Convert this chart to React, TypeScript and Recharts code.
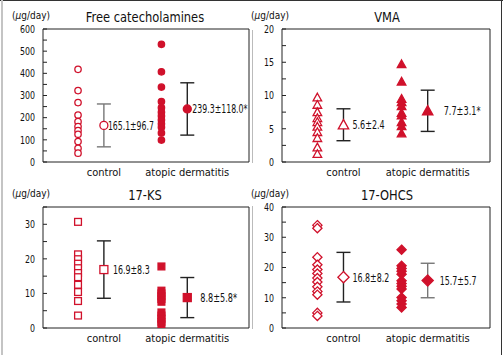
import React from 'react';
import { ScatterChart, Scatter, XAxis, YAxis, ErrorBar, ReferenceLine } from 'recharts';

const GROUPS = ['control', 'atopic dermatitis'];

// Free catecholamines (µg/day)
const CATE_CONTROL = [418, 322, 268, 212, 182, 160, 142, 125, 92, 62, 40];
const CATE_ATOPIC = [531, 407, 338, 273, 245, 225, 208, 190, 172, 157, 131, 99];
const CATE_MEAN = [165.1, 239.3];
const CATE_SD = [96.7, 118.0];
const CATE_SIG = [false, true];

// VMA
const VMA_CONTROL = [9.7, 8.6, 7.5, 6.6, 6.0, 5.3, 4.5, 3.6, 2.2, 1.2];
const VMA_ATOPIC = [14.7, 12.1, 9.5, 9.0, 8.4, 7.4, 7.0, 6.0, 5.4, 4.3];
const VMA_MEAN = [5.6, 7.7];
const VMA_SD = [2.4, 3.1];
const VMA_SIG = [false, true];

// 17-KS
const KS_CONTROL = [30.7, 21.3, 19.9, 18.6, 17.3, 15.9, 14.7, 12.5, 10.4, 7.8, 3.6];
const KS_ATOPIC = [17.8, 10.8, 10.0, 9.2, 8.4, 7.6, 4.5, 3.6, 2.7, 1.8, 1.1];
const KS_MEAN = [16.9, 8.8];
const KS_SD = [8.3, 5.8];
const KS_SIG = [false, true];

// 17-OHCS
const OHCS_CONTROL = [34.0, 33.0, 23.4, 20.9, 19.3, 18.0, 16.5, 15.2, 13.6, 12.1, 11.0, 5.0, 4.0];
const OHCS_ATOPIC = [25.9, 20.6, 19.7, 18.8, 17.8, 15.6, 14.7, 13.8, 12.9, 10.1, 9.0, 7.9, 6.8];
const OHCS_MEAN = [16.8, 15.7];
const OHCS_SD = [8.2, 5.7];
const OHCS_SIG = [false, false];

const RED = '#d0112b';
const FONT = '"DejaVu Sans Condensed", "DejaVu Sans", sans-serif';
const X_DOMAIN = [0.27, 2.74];
const SHIFT = 0.31; // individual values sit left of the group mean

type Kind = 'circle' | 'triangle' | 'square' | 'diamond';

function Marker({ cx, cy, kind, filled, s }: { cx: number; cy: number; kind: Kind; filled: boolean; s: number }) {
  const st = { fill: filled ? RED : '#fff', stroke: RED, strokeWidth: 1.3 };
  if (kind === 'circle') return <circle cx={cx} cy={cy} r={s} {...st} />;
  if (kind === 'square') return <rect x={cx - s} y={cy - s} width={s * 2} height={s * 2} {...st} />;
  if (kind === 'triangle')
    return <polygon points={`${cx},${cy - s} ${cx + s},${cy + s * 0.8} ${cx - s},${cy + s * 0.8}`} {...st} />;
  return <polygon points={`${cx},${cy - s} ${cx + s},${cy} ${cx},${cy + s} ${cx - s},${cy}`} {...st} />;
}

const SIZES: Record<Kind, [number, number]> = {
  circle: [3.2, 4],
  triangle: [4.3, 5.2],
  square: [3.4, 4],
  diamond: [4.6, 5.6],
};

function Panel(props: any) {
  const { left, top, width, height, mLeft, mRight, title, titleX, yMax, step, labelStep, kind, control, atopic, mean, sd, sig, labelDx, barColors } = props;
  const ticks: number[] = [];
  for (let v = 0; v <= yMax; v += step) ticks.push(v);
  const ctrl = control.map((y: number) => ({ x: 1 - SHIFT, y }));
  const atop = atopic.map((y: number) => ({ x: 2 - SHIFT, y }));
  const means = mean.map((m: number, i: number) => ({
    x: i + 1,
    y: m,
    sd: sd[i],
    i,
    label: `${m.toFixed(1)}±${sd[i].toFixed(1)}${sig[i] ? '*' : ''}`,
  }));
  const [s1, s2] = SIZES[kind as Kind];
  const yTick = (p: any) => {
    const v = p.payload.value;
    const t = String(v);
    return (
      <g>
        <line x1={p.x} x2={p.x + 4} y1={p.y} y2={p.y} stroke="#222" />
        {v % labelStep === 0 && (
          <text x={p.x - 8} y={p.y} dy="0.36em" textAnchor="end" fontSize={10.5} fill="#111" fontFamily={FONT}
            textLength={t.length * 5} lengthAdjust="spacingAndGlyphs">
            {t}
          </text>
        )}
      </g>
    );
  };
  return (
    <div style={{ position: 'absolute', left, top, width, height }}>
      <div style={{ position: 'absolute', left: titleX - left, top: 10, transform: 'translateX(-50%) scaleX(0.88)', fontSize: 14.5, lineHeight: '15px', fontFamily: FONT, whiteSpace: 'nowrap', color: '#111' }}>
        {title}
      </div>
      <div style={{ position: 'absolute', left: mLeft - 31, top: 10, fontSize: 10, lineHeight: '12px', fontFamily: FONT, color: '#111', whiteSpace: 'nowrap' }}>
        (<i>µ</i>g/day)
      </div>
      <ScatterChart width={width} height={height} margin={{ top: 29, right: mRight, bottom: 0, left: mLeft - 30 }}>
        <XAxis
          type="number"
          dataKey="x"
          domain={X_DOMAIN}
          ticks={[1, 2]}
          interval={0}
          tickFormatter={(v: number) => GROUPS[v - 1]}
          tickLine={false}
          tickSize={0}
          tickMargin={6}
          height={18}
          axisLine={{ stroke: '#222' }}
          tick={{ fontSize: 11, fill: '#111', fontFamily: FONT }}
          allowDataOverflow
        />
        <YAxis
          type="number"
          dataKey="y"
          domain={[0, yMax]}
          ticks={ticks}
          interval={0}
          tick={yTick}
          tickLine={false}
          tickSize={0}
          tickMargin={0}
          width={30}
          axisLine={{ stroke: '#222' }}
          allowDataOverflow
        />
        <ReferenceLine y={yMax} stroke="#222" />
        <ReferenceLine x={X_DOMAIN[1]} stroke="#222" />
        {means.map((d: any) => (
          <Scatter key={'eb' + d.i} data={[d]} isAnimationActive={false} shape={() => <g />}>
            <ErrorBar dataKey="sd" direction="y" width={7} stroke={barColors[d.i]} strokeWidth={1.4} />
          </Scatter>
        ))}
        <Scatter
          data={ctrl}
          isAnimationActive={false}
          shape={(p: any) => <Marker cx={p.cx} cy={p.cy} kind={kind} filled={false} s={s1} />}
        />
        <Scatter
          data={atop}
          isAnimationActive={false}
          shape={(p: any) => <Marker cx={p.cx} cy={p.cy} kind={kind} filled={true} s={s1} />}
        />
        <Scatter
          data={means}
          isAnimationActive={false}
          shape={(p: any) => (
            <g>
              <Marker cx={p.cx} cy={p.cy} kind={kind} filled={p.payload.i === 1} s={s2} />
              <text x={p.cx + labelDx[p.payload.i]} y={p.cy} dy="0.36em" fontSize={12} fill="#111" fontFamily={FONT}
                textLength={p.payload.label.length * 4.6} lengthAdjust="spacingAndGlyphs">
                {p.payload.label}
              </text>
            </g>
          )}
        />
      </ScatterChart>
    </div>
  );
}

export default function App() {
  return (
    <div style={{ position: 'fixed', left: 0, top: 0, width: 503, height: 355, background: '#fff', overflow: 'hidden' }}>
      <div style={{ position: 'absolute', left: 0, top: 0, width: 503, height: 1, background: '#333' }} />
      <div style={{ position: 'absolute', left: 501, top: 0, width: 1, height: 355, background: '#333' }} />
      <div style={{ position: 'absolute', left: 1, top: 0, width: 2, height: 355, background: '#c4c4c4' }} />
      <div style={{ position: 'absolute', left: 252, top: 30, width: 1, height: 133, background: '#bbb' }} />
      <div style={{ position: 'absolute', left: 252, top: 206, width: 1, height: 123, background: '#bbb' }} />
      <Panel
        left={0} top={0} width={250} height={180} mLeft={43} mRight={1}
        title="Free catecholamines" titleX={145}
        yMax={600} step={50} labelStep={100} kind="circle"
        control={CATE_CONTROL} atopic={CATE_ATOPIC} mean={CATE_MEAN} sd={CATE_SD} sig={CATE_SIG}
        labelDx={[4, 5]} barColors={['#777', '#222']}
      />
      <Panel
        left={250} top={0} width={242} height={180} mLeft={32} mRight={2}
        title="VMA" titleX={387}
        yMax={20} step={2.5} labelStep={5} kind="triangle"
        control={VMA_CONTROL} atopic={VMA_ATOPIC} mean={VMA_MEAN} sd={VMA_SD} sig={VMA_SIG}
        labelDx={[9, 16]} barColors={['#222', '#222']}
      />
      <Panel
        left={0} top={178} width={250} height={168} mLeft={43} mRight={1}
        title="17-KS" titleX={145}
        yMax={35} step={5} labelStep={10} kind="square"
        control={KS_CONTROL} atopic={KS_ATOPIC} mean={KS_MEAN} sd={KS_SD} sig={KS_SIG}
        labelDx={[9, 13]} barColors={['#222', '#222']}
      />
      <Panel
        left={250} top={178} width={242} height={168} mLeft={32} mRight={2}
        title="17-OHCS" titleX={387}
        yMax={40} step={5} labelStep={10} kind="diamond"
        control={OHCS_CONTROL} atopic={OHCS_ATOPIC} mean={OHCS_MEAN} sd={OHCS_SD} sig={OHCS_SIG}
        labelDx={[9, 12]} barColors={['#222', '#777']}
      />
    </div>
  );
}
